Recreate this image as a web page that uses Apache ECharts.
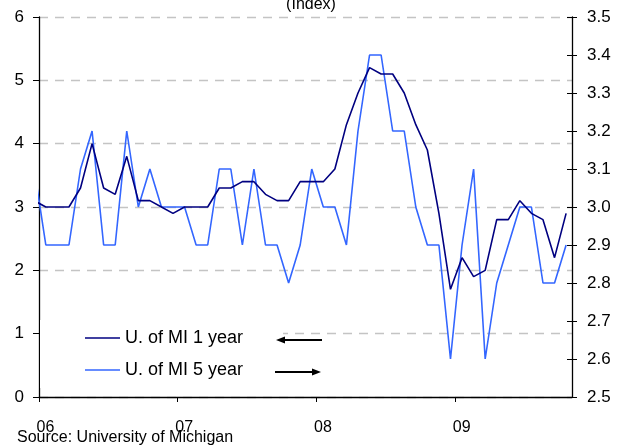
<!DOCTYPE html>
<html>
<head>
<meta charset="utf-8">
<script src="https://cdn.jsdelivr.net/npm/echarts@6/dist/echarts.min.js"></script>
<style>html,body{margin:0;padding:0;background:#fff}#c{width:624px;height:446px}</style>
</head>
<body>
<div id="c"></div>
<script>
// Monthly observations, Dec 2005 .. Oct 2009
var months = ['2005-12',
 '2006-01','2006-02','2006-03','2006-04','2006-05','2006-06','2006-07','2006-08','2006-09','2006-10','2006-11','2006-12',
 '2007-01','2007-02','2007-03','2007-04','2007-05','2007-06','2007-07','2007-08','2007-09','2007-10','2007-11','2007-12',
 '2008-01','2008-02','2008-03','2008-04','2008-05','2008-06','2008-07','2008-08','2008-09','2008-10','2008-11','2008-12',
 '2009-01','2009-02','2009-03','2009-04','2009-05','2009-06','2009-07','2009-08','2009-09','2009-10'];
var oneYear = [3.1,
 3.0,3.0,3.0,3.3,4.0,3.3,3.2,3.8,3.1,3.1,3.0,2.9,
 3.0,3.0,3.0,3.3,3.3,3.4,3.4,3.2,3.1,3.1,3.4,3.4,
 3.4,3.6,4.3,4.8,5.2,5.1,5.1,4.8,4.3,3.9,2.9,1.7,
 2.2,1.9,2.0,2.8,2.8,3.1,2.9,2.8,2.2,2.9];
var fiveYear = [3.1,
 2.9,2.9,2.9,3.1,3.2,2.9,2.9,3.2,3.0,3.1,3.0,3.0,
 3.0,2.9,2.9,3.1,3.1,2.9,3.1,2.9,2.9,2.8,2.9,3.1,
 3.0,3.0,2.9,3.2,3.4,3.4,3.2,3.2,3.0,2.9,2.9,2.6,
 2.9,3.1,2.6,2.8,2.9,3.0,3.0,2.8,2.8,2.9];
var yearTicks = [0, 12, 24, 36];
var yearLabels = ['06', '07', '08', '09'];
var seriesNames = ['U. of MI 1 year', 'U. of MI 5 year'];

// position of each month on the axis: months since Jan 2006, observation mid-month
function monthPos(m) {
  var p = m.split('-');
  return (parseInt(p[0], 10) - 2006) * 12 + (parseInt(p[1], 10) - 1) + 0.59;
}
function pairs(vals) { return months.map(function (m, i) { return [monthPos(m), vals[i]]; }); }

var FONT = 'Liberation Sans, Arial, sans-serif';
var chart = echarts.init(document.getElementById('c'), null, {renderer: 'canvas'});
chart.setOption({
  animation: false,
  backgroundColor: '#ffffff',
  grid: {left: 39, right: 52, top: 17, bottom: 49, containLabel: false},
  legend: {
    orient: 'vertical', left: 40, top: 320,
    padding: [8, 40, 8, 45],
    backgroundColor: '#ffffff',
    icon: 'rect',
    itemWidth: 35, itemHeight: 1.6, itemGap: 12,
    z: 6,
    textStyle: {fontFamily: FONT, fontSize: 18, color: '#000', lineHeight: 20, padding: [0, 0, 0, 0]},
    data: seriesNames
  },
  xAxis: {
    type: 'value', min: 0, max: 46.1,
    axisLine: {lineStyle: {color: '#000', width: 1.3}},
    axisTick: {customValues: yearTicks, length: 5, lineStyle: {color: '#000'}},
    axisLabel: {
      customValues: yearTicks, margin: 23, color: '#000', fontFamily: FONT, fontSize: 16,
      padding: [0, 0, 0, 13],
      formatter: function (v) { var k = yearTicks.indexOf(v); return k >= 0 ? yearLabels[k] : ''; }
    },
    splitLine: {show: false}
  },
  yAxis: [
    {
      type: 'value', position: 'left', min: 0, max: 6, interval: 1,
      axisLine: {show: true, lineStyle: {color: '#000', width: 1.3}},
      axisTick: {show: true, length: 6, lineStyle: {color: '#000'}},
      axisLabel: {margin: 15, color: '#000', fontFamily: FONT, fontSize: 17},
      splitLine: {show: true, lineStyle: {color: '#c4c4c4', type: [9, 7], width: 1.3}}
    },
    {
      type: 'value', position: 'right', min: 2.5, max: 3.5, interval: 0.1,
      axisLine: {show: true, lineStyle: {color: '#000', width: 1.3}},
      axisTick: {show: true, length: 5, lineStyle: {color: '#000'}},
      axisLabel: {margin: 15, color: '#000', fontFamily: FONT, fontSize: 17,
        formatter: function (v) { return v.toFixed(1); }},
      splitLine: {show: false}
    },
    {
      type: 'value', position: 'right', min: 2.5, max: 3.5, interval: 0.1,
      axisLine: {show: false},
      axisTick: {show: true, inside: true, length: 5, lineStyle: {color: '#000'}},
      axisLabel: {show: false},
      splitLine: {show: false}
    }
  ],
  series: [
    {
      name: seriesNames[0], type: 'line', yAxisIndex: 0, symbol: 'none', clip: true,
      lineStyle: {color: '#000080', width: 1.6}, itemStyle: {color: '#000080'},
      data: pairs(oneYear), z: 3
    },
    {
      name: seriesNames[1], type: 'line', yAxisIndex: 1, symbol: 'none', clip: true,
      lineStyle: {color: '#3366ff', width: 1.6}, itemStyle: {color: '#3366ff'},
      data: pairs(fiveYear), z: 2
    }
  ],
  graphic: [
    {type: 'text', x: 311, y: -3, z: 10,
      style: {text: '(Index)', font: '16px ' + FONT, fill: '#000', align: 'center', verticalAlign: 'top'}},
    {type: 'text', left: 17, top: 430, z: 10,
      style: {text: 'Source: University of Michigan', font: '16px ' + FONT, fill: '#000'}},
    {type: 'line', z: 10, shape: {x1: 281, y1: 340, x2: 322, y2: 340},
      style: {stroke: '#000', lineWidth: 2}},
    {type: 'polygon', z: 10, shape: {points: [[276, 340], [285, 336.5], [285, 343.5]]},
      style: {fill: '#000'}},
    {type: 'line', z: 10, shape: {x1: 275, y1: 372, x2: 316, y2: 372},
      style: {stroke: '#000', lineWidth: 2}},
    {type: 'polygon', z: 10, shape: {points: [[321, 372], [312, 368.5], [312, 375.5]]},
      style: {fill: '#000'}}
  ]
});
</script>
</body>
</html>
